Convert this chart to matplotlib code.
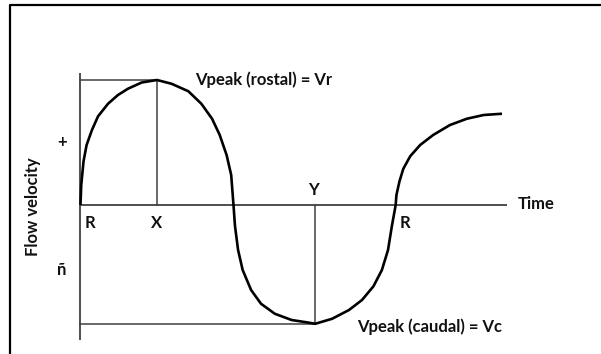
import numpy as np
import matplotlib
matplotlib.use("Agg")
import matplotlib.pyplot as plt
from matplotlib.lines import Line2D

# flow velocity curve (time in units of R->X, velocity in units of Vr)
time = [0.00, 0.01, 0.04, 0.08, 0.15, 0.23, 0.36, 0.49, 0.62, 0.80, 1.00,
        1.19, 1.41, 1.58, 1.72, 1.82, 1.91, 1.97, 2.00,
        2.02, 2.06, 2.12, 2.23, 2.36, 2.54, 2.76, 2.97, 3.07,
        3.29, 3.51, 3.68, 3.83, 3.94, 4.02, 4.07, 4.12,
        4.13, 4.17, 4.22, 4.31, 4.44, 4.61, 4.83, 5.05, 5.27, 5.51]
velocity = [0.00, 0.16, 0.35, 0.48, 0.60, 0.71, 0.81, 0.88, 0.93, 0.98, 1.00,
            0.97, 0.91, 0.81, 0.69, 0.56, 0.40, 0.24, 0.00,
            -0.17, -0.36, -0.52, -0.68, -0.79, -0.87, -0.92, -0.94, -0.95,
            -0.91, -0.84, -0.76, -0.65, -0.52, -0.36, -0.17, 0.00,
            0.08, 0.19, 0.29, 0.39, 0.48, 0.56, 0.64, 0.69, 0.72, 0.73]

t_x = 1.00      # X: time of rostral peak
t_y = 3.07      # Y: time of caudal peak
v_r = 1.00      # Vpeak (rostal)
v_c = -0.95     # Vpeak (caudal)
t_r2 = 4.12     # second R
t_end = 5.575   # end of time axis

font = "Lato"
fs = 12

fig = plt.figure(figsize=(6.01, 3.54), dpi=100)
ax = fig.add_axes([0, 0, 1, 1])
ax.set_xlim(-1.052, 6.804)
ax.set_ylim(-1.192, 1.64)
ax.axis("off")

grey = "#404040"
# axes
ax.plot([0, 0], [1.056, -1.08], color=grey, lw=1.3, solid_capstyle="butt")
ax.plot([0, t_end], [0, 0], color=grey, lw=1.3, solid_capstyle="butt")
# guide lines
ax.plot([0, t_x], [v_r, v_r], color=grey, lw=1.1)
ax.plot([t_x, t_x], [0, v_r], color=grey, lw=1.1)
ax.plot([0, t_y], [v_c, v_c], color=grey, lw=1.1)
ax.plot([t_y, t_y], [v_c, 0], color=grey, lw=1.1)

# curve
ax.plot(time, velocity, color="black", lw=1.9, solid_capstyle="butt",
        solid_joinstyle="round")

kw = dict(fontfamily=font, fontweight="bold", fontsize=fs, color="#111111")
ax.text(1.50, 1.0, "Vpeak (rostal) = Vr", ha="left", va="center", **kw)
ax.text(3.61, -0.97, "Vpeak (caudal) = Vc", ha="left", va="center", **kw)
ax.text(5.71, 0.01, "Time", ha="left", va="center", **kw)
ax.text(0.12, -0.14, "R", ha="center", va="center", **kw)
ax.text(t_x, -0.14, "X", ha="center", va="center", **kw)
ax.text(t_y - 0.02, 0.12, "Y", ha="center", va="center", **kw)
ax.text(t_r2 + 0.12, -0.14, "R", ha="center", va="center", **kw)
ax.text(-0.62, -0.01, "Flow velocity", ha="center", va="center", rotation=90, **kw)
ax.text(-0.24, 0.50, "+", ha="center", va="center", **kw)
ax.text(-0.24, -0.52, "ñ", ha="center", va="center", **kw)

# frame around the figure (left and top edges visible)
fx = 9.5 / 601
fy = 1 - 4.5 / 354
fig.add_artist(Line2D([fx, fx, 1.0], [0.0, fy, fy], color="black", lw=1.6,
                      transform=fig.transFigure))

fig.savefig("out.png", dpi=100)
